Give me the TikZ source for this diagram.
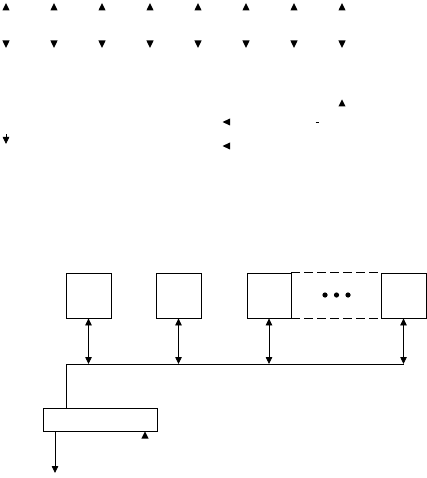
\documentclass[tikz,border=0pt]{standalone}
\usetikzlibrary{arrows.meta}
\begin{document}
\begin{tikzpicture}[x=1pt,y=-1pt,
  line/.style={draw=black,line width=0.8pt},
  unit/.style={line,rectangle,inner sep=0pt,minimum width=45pt,minimum height=45pt},
  tipfill/.style={fill=black},
  dbl/.style={line,{Triangle[length=7pt,width=6.5pt]}-{Triangle[length=7pt,width=6.5pt]}},
  single/.style={line,-{Triangle[length=7pt,width=6.5pt]}}
]
\useasboundingbox (0,0) rectangle (427,478);
% isolated arrowheads, top rows
\foreach \x in {6,54,102,150,198,246,294,342}{
  \fill[tipfill] (\x-3.6,10.5) -- (\x,3) -- (\x+3.6,10.5) -- cycle;
  \fill[tipfill] (\x-3.6,40.5) -- (\x,48) -- (\x+3.6,40.5) -- cycle;
}
\fill[tipfill] (342-3.6,106.5) -- (342,99.5) -- (342+3.6,106.5) -- cycle;
\fill[tipfill] (230,118.5) -- (222.5,122) -- (230,125.5) -- cycle;
\fill[tipfill] (230,142.5) -- (222.5,146) -- (230,149.5) -- cycle;
\draw[line] (315.5,122) -- (318.5,122);
\coordinate (s1) at (6,134.5);
\coordinate (e1) at (6,144);
\draw[single] (s1) -- (e1);
% units
\node[unit] (b1) at (88.5,295.5) {};
\node[unit] (b2) at (178.5,295.5) {};
\node[unit,minimum width=44pt] (b3) at (269,295.5) {};
\node[unit] (b4) at (403.5,295.5) {};
\draw[line,dash pattern=on 9pt off 4pt] (b3.north east) -- (b4.north west);
\draw[line,dash pattern=on 9pt off 4pt] (b3.south east) -- (b4.south west);
\foreach \x in {325,336.5,348}{\fill (\x,295) circle (2.6pt);}
% bus
\coordinate (busL) at (66,364);
\coordinate (busR) at (404,364);
\draw[line] (busL) -- (busR);
\draw[dbl] (b1.south) -- (b1.south |- busL);
\draw[dbl] (b2.south) -- (b2.south |- busL);
\draw[dbl] (b3.south) -- (b3.south |- busL);
\draw[dbl] (b4.south) -- (b4.south |- busL);
% lower box
\node[line,rectangle,inner sep=0pt,minimum width=114pt,minimum height=23pt] (b5) at (100,419.5) {};
\draw[line] (busL) -- (busL |- b5.north);
\coordinate (outp) at (55,473);
\draw[single] (b5.south -| outp) -- (outp);
\fill[tipfill] (145-3.6,438.5) -- (145,431.5) -- (145+3.6,438.5) -- cycle;
\end{tikzpicture}
\end{document}
